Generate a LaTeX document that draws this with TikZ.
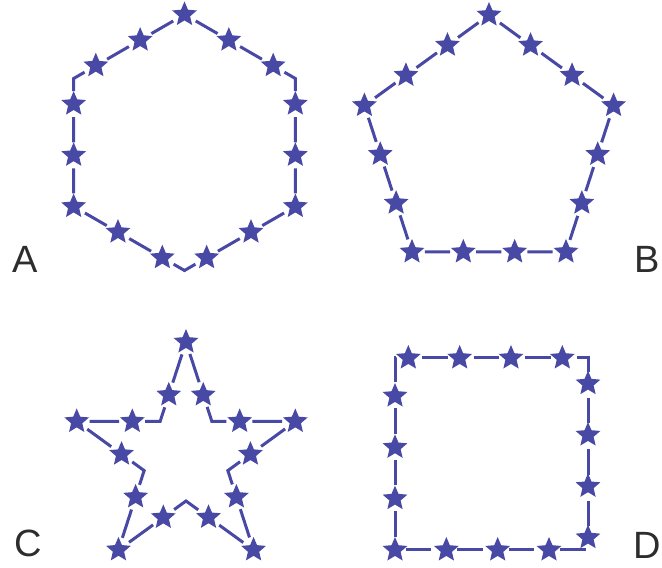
\documentclass[tikz,border=0pt]{standalone}
\usepackage{fontspec}
\setmainfont{Liberation Sans}
\usetikzlibrary{shapes.geometric,decorations.markings}
\definecolor{starblue}{RGB}{72,72,165}
\definecolor{letgray}{RGB}{45,45,45}
\begin{document}
\begin{tikzpicture}[x=1pt, y=1pt,
    starmark/.style={star, star points=5, star point ratio=2.2, fill=starblue,
        inner sep=0pt, minimum size=26pt},
    outline/.style={draw=starblue, line width=3pt,
        dash pattern=on 0pt off 13pt on #1 off 13pt},
    stars/.style={postaction={decorate, decoration={markings,
        mark=between positions 0 and 0.95 step 0.0666667 with
        {\node[starmark] (#1-\pgfkeysvalueof{/pgf/decoration/mark info/sequence number}) {};}}}},
    letter/.style={inner sep=0pt, text=letgray, font=\fontsize{38}{40}\selectfont}]
    \useasboundingbox (0,0) rectangle (662,568);
    % A: luc giac
    \begin{scope}[shift={(184.5,425.5)}]
        \draw[outline=25.2pt, stars=hex] (90:128) -- (150:128) -- (210:128)
            -- (270:128) -- (330:128) -- (30:128) -- cycle;
    \end{scope}
    % B: ngu giac
    \begin{scope}[shift={(489,422)}]
        \draw[outline=25.3pt, stars=pen] (90:131) -- (162:131) -- (234:131)
            -- (306:131) -- (18:131) -- cycle;
    \end{scope}
    % C: ngoi sao
    \begin{scope}[shift={(186,111)}]
        \draw[outline=29.7pt, stars=sao] (90:115) -- (126:44) -- (162:115)
            -- (198:44) -- (234:115) -- (270:44) -- (306:115) -- (342:44)
            -- (18:115) -- (54:44) -- cycle;
    \end{scope}
    % D: hinh vuong
    \draw[outline=25.5pt, stars=vuong] (395,18) -- (395,210) -- (588,210)
        -- (588,18) -- cycle;
    % Nhan
    \node[letter] (la) at (25,309) {A};
    \node[letter] (lb) at (647,309) {B};
    \node[letter] (lc) at (28.5,24.5) {C};
    \node[letter] (ld) at (647.5,23) {D};
\end{tikzpicture}
\end{document}
